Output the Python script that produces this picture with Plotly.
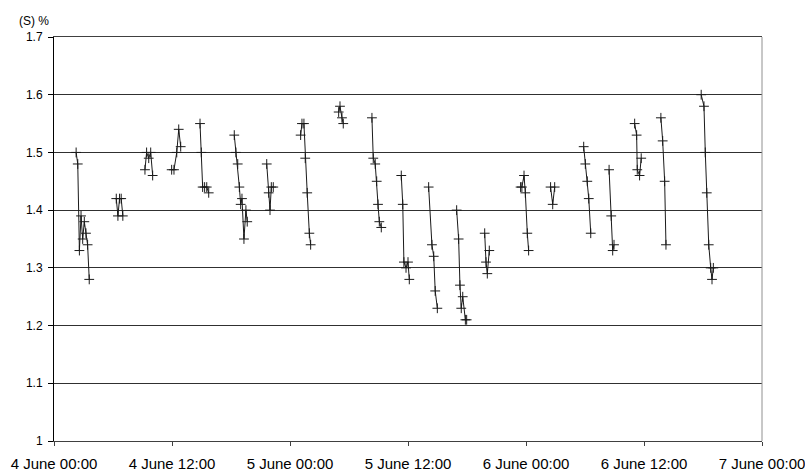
import plotly.graph_objects as go

# Sulphur content (%) sampled in short runs; None marks the gap between runs.
timestamps = [
    # 4 June
    "2024-06-04 02:15", "2024-06-04 02:25", "2024-06-04 02:35", "2024-06-04 02:45", "2024-06-04 02:55",
    "2024-06-04 03:05", "2024-06-04 03:15", "2024-06-04 03:25", "2024-06-04 03:35", None,
    "2024-06-04 06:20", "2024-06-04 06:30", "2024-06-04 06:40", "2024-06-04 06:50", "2024-06-04 07:00", None,
    "2024-06-04 09:15", "2024-06-04 09:25", "2024-06-04 09:38", "2024-06-04 09:50", "2024-06-04 10:02", None,
    "2024-06-04 11:58", "2024-06-04 12:12", "2024-06-04 12:29", "2024-06-04 12:41", "2024-06-04 12:53", None,
    "2024-06-04 14:51", "2024-06-04 14:59", "2024-06-04 15:07", "2024-06-04 15:19", "2024-06-04 15:32",
    "2024-06-04 15:44", None,
    "2024-06-04 18:20", "2024-06-04 18:30", "2024-06-04 18:41", "2024-06-04 18:51", "2024-06-04 18:59",
    "2024-06-04 19:07", "2024-06-04 19:19", "2024-06-04 19:31", "2024-06-04 19:39", None,
    "2024-06-04 21:38", "2024-06-04 21:50", "2024-06-04 21:58", "2024-06-04 22:06", "2024-06-04 22:18", None,
    # 5 June
    "2024-06-05 01:05", "2024-06-05 01:13", "2024-06-05 01:25", "2024-06-05 01:33", "2024-06-05 01:45",
    "2024-06-05 01:58", "2024-06-05 02:06", None,
    "2024-06-05 04:57", "2024-06-05 05:05", "2024-06-05 05:17", "2024-06-05 05:25", None,
    "2024-06-05 08:20", "2024-06-05 08:28", "2024-06-05 08:40", "2024-06-05 08:49", "2024-06-05 08:57",
    "2024-06-05 09:05", "2024-06-05 09:17", None,
    "2024-06-05 11:19", "2024-06-05 11:28", "2024-06-05 11:35", "2024-06-05 11:48", "2024-06-05 12:00",
    "2024-06-05 12:08", None,
    "2024-06-05 14:06", "2024-06-05 14:26", "2024-06-05 14:37", "2024-06-05 14:46", "2024-06-05 14:59", None,
    "2024-06-05 16:57", "2024-06-05 17:09", "2024-06-05 17:17", "2024-06-05 17:25", "2024-06-05 17:34",
    "2024-06-05 17:50", "2024-06-05 17:58", None,
    "2024-06-05 19:48", "2024-06-05 19:56", "2024-06-05 20:04", "2024-06-05 20:16", None,
    "2024-06-05 23:27", "2024-06-05 23:35", "2024-06-05 23:48", "2024-06-05 23:56", "2024-06-06 00:08",
    "2024-06-06 00:16", None,
    # 6 June
    "2024-06-06 02:30", "2024-06-06 02:43", "2024-06-06 02:55", None,
    "2024-06-06 05:52", "2024-06-06 06:02", "2024-06-06 06:14", "2024-06-06 06:23", "2024-06-06 06:35", None,
    "2024-06-06 08:27", "2024-06-06 08:40", "2024-06-06 08:49", "2024-06-06 08:57", None,
    "2024-06-06 11:03", "2024-06-06 11:15", "2024-06-06 11:19", "2024-06-06 11:33", "2024-06-06 11:43", None,
    "2024-06-06 13:43", "2024-06-06 13:54", "2024-06-06 14:06", "2024-06-06 14:14", None,
    "2024-06-06 17:49", "2024-06-06 18:06", "2024-06-06 18:14", "2024-06-06 18:23", "2024-06-06 18:35",
    "2024-06-06 18:47", "2024-06-06 18:55", "2024-06-06 19:03",
]

sulphur_pct = [
    1.50, 1.48, 1.33, 1.39, 1.35, 1.38, 1.36, 1.34, 1.28, None,
    1.42, 1.39, 1.42, 1.42, 1.39, None,
    1.47, 1.50, 1.49, 1.50, 1.46, None,
    1.47, 1.47, 1.50, 1.54, 1.51, None,
    1.55, 1.50, 1.44, 1.44, 1.44, 1.43, None,
    1.53, 1.50, 1.48, 1.44, 1.41, 1.42, 1.35, 1.40, 1.38, None,
    1.48, 1.43, 1.40, 1.44, 1.44, None,
    1.53, 1.55, 1.55, 1.49, 1.43, 1.36, 1.34, None,
    1.57, 1.58, 1.56, 1.55, None,
    1.56, 1.49, 1.48, 1.45, 1.41, 1.38, 1.37, None,
    1.46, 1.41, 1.31, 1.30, 1.31, 1.28, None,
    1.44, 1.34, 1.32, 1.26, 1.23, None,
    1.40, 1.35, 1.27, 1.23, 1.25, 1.21, 1.21, None,
    1.36, 1.31, 1.29, 1.33, None,
    1.44, 1.44, 1.46, 1.43, 1.36, 1.33, None,
    1.44, 1.41, 1.44, None,
    1.51, 1.48, 1.45, 1.42, 1.36, None,
    1.47, 1.39, 1.33, 1.34, None,
    1.55, 1.53, 1.47, 1.46, 1.49, None,
    1.56, 1.52, 1.45, 1.34, None,
    1.60, 1.58, 1.50, 1.43, 1.34, 1.30, 1.28, 1.30,
]

y_ticks = [1.0, 1.1, 1.2, 1.3, 1.4, 1.5, 1.6, 1.7]
y_tick_labels = ["1", "1.1", "1.2", "1.3", "1.4", "1.5", "1.6", "1.7"]
x_start = "2024-06-04 00:00"
x_end = "2024-06-07 00:00"

FONT = "Liberation Sans, Arial, sans-serif"

fig = go.Figure()
fig.add_trace(go.Scatter(
    x=timestamps,
    y=sulphur_pct,
    mode="lines+markers",
    connectgaps=False,
    line=dict(color="#1a1a1a", width=1),
    marker=dict(symbol="cross-thin", size=7, line=dict(color="#1a1a1a", width=1)),
    hoverinfo="x+y",
))

fig.update_layout(
    width=805,
    height=474,
    margin=dict(l=54, r=43, t=37, b=33, autoexpand=False),
    paper_bgcolor="white",
    plot_bgcolor="white",
    showlegend=False,
    font=dict(family=FONT, color="black"),
    xaxis=dict(
        type="date",
        range=[x_start, x_end],
        tick0=x_start,
        dtick=12 * 3600 * 1000,
        tickformat="%-d %B %H:%M",
        tickfont=dict(size=15, family=FONT, color="black"),
        ticklabeloverflow="allow",
        ticklabelstandoff=5,
        automargin=False,
        showgrid=False,
        showline=True,
        linecolor="#404040",
        linewidth=1,
        mirror=True,
        ticks="outside",
        ticklen=4,
        tickcolor="#404040",
        zeroline=False,
    ),
    yaxis=dict(
        range=[1.0, 1.7],
        tickvals=y_ticks,
        ticktext=y_tick_labels,
        tickfont=dict(size=12, family=FONT, color="black"),
        ticklabelstandoff=3,
        automargin=False,
        showgrid=True,
        gridcolor="#303030",
        gridwidth=1,
        showline=True,
        linecolor="black",
        linewidth=1,
        ticks="outside",
        ticklen=5,
        tickcolor="black",
        zeroline=False,
    ),
    shapes=[
        dict(type="line", xref="paper", yref="paper", x0=1, x1=1, y0=0, y1=1,
             line=dict(color="#909090", width=1)),
    ],
    annotations=[
        dict(text="(S) %", xref="paper", yref="paper", x=0.0, y=1.0,
             xanchor="right", yanchor="bottom", yshift=7, xshift=-3,
             showarrow=False, font=dict(size=12, family=FONT, color="black")),
    ],
)

fig.write_html("out.html")
